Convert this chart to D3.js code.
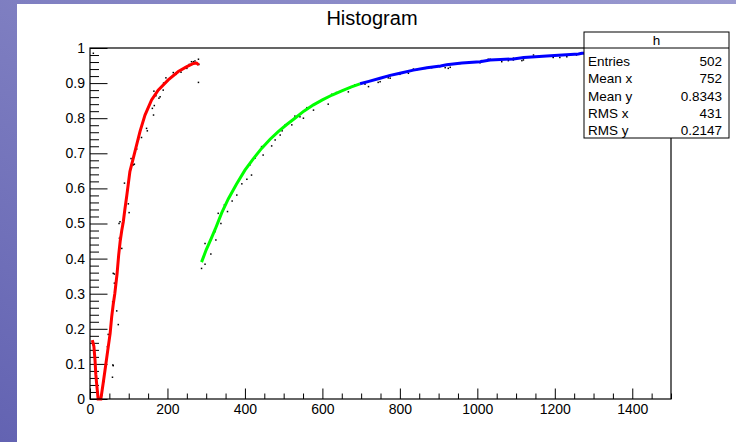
<!DOCTYPE html>
<html>
<head>
<meta charset="utf-8">
<script src="https://cdn.jsdelivr.net/npm/d3@7"></script>
<style>
  body { margin: 0; }
  svg { display: block; font-family: "Liberation Sans", Arial, sans-serif; }
</style>
</head>
<body>
<svg width="736" height="442"></svg>
<script>
// fitted pieces (x, y)
const redCurve = [[6,0.168],[10,0.15],[13,0.11],[15,0.07],[17,0.045],[21,0],[28,0],[34,0.045],[40,0.092],[46,0.14],[52,0.187],[56,0.234],[60,0.27],[64,0.3],[70,0.358],[74,0.41],[78,0.45],[82,0.48],[86,0.505],[90,0.54],[95,0.58],[103,0.648],[116,0.705],[129,0.762],[142,0.809],[159,0.852],[176,0.88],[202,0.909],[228,0.933],[250,0.947],[267,0.956],[275,0.957],[281,0.952]]
const greenCurve = [[288,0.39],[300,0.425],[312,0.455],[323,0.483],[340,0.53],[357,0.57],[378,0.612],[400,0.652],[420,0.682],[443,0.714],[465,0.74],[486,0.762],[508,0.782],[529,0.8],[552,0.82],[577,0.838],[600,0.852],[625,0.866],[650,0.878],[675,0.889],[697,0.898]]
const blueCurve = [[697,0.898],[720,0.905],[749,0.914],[775,0.922],[800,0.928],[835,0.937],[870,0.944],[905,0.949],[921,0.952],[960,0.957],[1007,0.961],[1033,0.966],[1060,0.967],[1093,0.969],[1120,0.973],[1150,0.975],[1179,0.977],[1220,0.98],[1261,0.983],[1270,0.985],[1320,0.986],[1380,0.988],[1440,0.989],[1500,0.99]]

// the black data points
const dots = [[8.6,0.985],[45,0.149],[47,0.184],[58,0.062],[59,0.097],[60,0.095],[60,0.358],[63,0.33],[63,0.356],[58.5,0.277],[69,0.251],[73,0.212],[76,0.458],[79,0.462],[82,0.429],[75,0.5],[77.5,0.505],[89,0.615],[95,0.574],[99,0.556],[101,0.531],[106,0.685],[112,0.667],[114.5,0.669],[120.5,0.712],[133,0.745],[146,0.771],[148,0.764],[161,0.828],[164,0.809],[166,0.836],[165,0.877],[170,0.864],[178,0.857],[181,0.861],[189,0.88],[196,0.915],[215,0.93],[222,0.925],[235,0.931],[245,0.944],[250,0.942],[262,0.961],[267,0.961],[271,0.963],[280,0.968],[281,0.953],[280,0.902],
  [20,0.02],[30,0.01],[36,0.05],[52,0.19],[66,0.32],[84,0.5],[125,0.74],[190,0.9],[230,0.935],[256,0.953],
  [288,0.372],[297,0.384],[312,0.413],[297,0.443],[325,0.453],[323,0.477],[338,0.5],[331,0.529],[355,0.534],[347,0.553],[367,0.564],[379,0.581],[392,0.613],[405,0.626],[417,0.638],[413,0.667],[426,0.686],[447,0.695],[443,0.719],[469,0.721],[454,0.726],[478,0.738],[491,0.752],[496,0.764],[504,0.781],[521,0.781],[529,0.806],[542,0.804],[551,0.8],[560,0.83],[577,0.823],[615,0.84],[624,0.868],[636,0.873],[654,0.88],[667,0.875],[671,0.887],[684,0.895],
  [710,0.897],[719,0.89],[744,0.902],[749,0.904],[749,0.914],[770,0.915],[775,0.914],[775,0.921],[800,0.925],[822,0.928],[835,0.94],[843,0.937],[865,0.942],[882,0.944],[903,0.947],[908,0.949],[917,0.944],[925,0.942],[925,0.953],[930,0.945],[955,0.956],[1007,0.958],[1011,0.964],[1028,0.968],[1033,0.968],[1063,0.961],[1080,0.964],[1093,0.966],[1093,0.971],[1115,0.964],[1119,0.966],[1119,0.973],[1145,0.98],[1196,0.973],[1196,0.975],[1213,0.973],[1231,0.975],[1256,0.98],[1270,0.985]]

const xTicks = [0, 200, 400, 600, 800, 1000, 1200, 1400]
const yTicks = [0, 0.1, 0.2, 0.3, 0.4, 0.5, 0.6, 0.7, 0.8, 0.9, 1]

const statLabels = ["Entries", "Mean x", "Mean y", "RMS x", "RMS y"]
const statValues = ["502", "752", "0.8343", "431", "0.2147"]

const svg = d3.select("svg")

// slide background behind the canvas
const defs = svg.append("defs")
const grad = defs.append("linearGradient").attr("id", "bg")
  .attr("x1", "0%").attr("y1", "100%").attr("x2", "100%").attr("y2", "0%")
grad.append("stop").attr("offset", "0%").attr("stop-color", "#6363b2")
grad.append("stop").attr("offset", "100%").attr("stop-color", "#9a9ad0")
svg.append("rect").attr("width", 736).attr("height", 442).attr("fill", "url(#bg)")
svg.append("rect").attr("x", 17).attr("y", 4).attr("width", 719).attr("height", 438).attr("fill", "#fff")

const frameL = 90, frameR = 671, frameT = 48, frameB = 399

const x = d3.scaleLinear().domain([0, 1500]).range([frameL, frameR])
const y = d3.scaleLinear().domain([0, 1]).range([frameB, frameT])

svg.append("text")
  .attr("x", 372).attr("y", 25)
  .attr("text-anchor", "middle")
  .style("font-size", "20px")
  .text("Histogram")

// axes, ticks pointing inwards like ROOT
const xMinor = d3.range(0, 1501, 50).filter(v => v % 200 != 0)
const yMinor = d3.range(0, 51).map(i => i / 50).filter((v, i) => i % 5 != 0)

svg.append("g").attr("transform", `translate(0,${frameB})`)
  .call(d3.axisBottom(x).tickValues(xMinor).tickSize(-5.5).tickFormat(""))
svg.append("g").attr("transform", `translate(0,${frameB})`)
  .call(d3.axisBottom(x).tickValues(xTicks).tickSize(-10.5).tickPadding(5).tickFormat(d3.format("d")))
svg.append("g").attr("transform", `translate(${frameL},0)`)
  .call(d3.axisLeft(y).tickValues(yMinor).tickSize(-9).tickFormat(""))
svg.append("g").attr("transform", `translate(${frameL},0)`)
  .call(d3.axisLeft(y).tickValues(yTicks).tickSize(-17.5).tickPadding(5).tickFormat(d => d3.format("")(+d.toFixed(1))))

svg.selectAll(".domain").remove()
svg.selectAll(".tick line").attr("stroke", "#000")
svg.selectAll(".tick text").style("font-size", "14px").attr("fill", "#000").style("font-family", "'Liberation Sans', Arial, sans-serif")

const plot = svg.append("g")

// black points
plot.selectAll("rect.dot")
  .data(dots)
  .enter()
  .append("rect")
  .attr("class", "dot")
  .attr("x", d => x(d[0]) - 0.75)
  .attr("y", d => y(d[1]) - 0.75)
  .attr("width", 1.5)
  .attr("height", 1.5)
  .attr("fill", "#000")

const line = d3.line()
  .x(d => x(d[0]))
  .y(d => y(d[1]))

const pieces = [[redCurve, "#ff0000"], [greenCurve, "#00ff00"], [blueCurve, "#0000ff"]]
pieces.forEach(p => {
  plot.append("path")
    .attr("d", line(p[0]))
    .attr("fill", "none")
    .attr("stroke", p[1])
    .attr("stroke-width", 3)
})

// frame
svg.append("rect")
  .attr("x", frameL).attr("y", frameT)
  .attr("width", frameR - frameL).attr("height", frameB - frameT)
  .attr("fill", "none").attr("stroke", "#000").attr("stroke-width", 1.2)

// stats box
const box = svg.append("g").attr("transform", "translate(584,32)")
box.append("rect").attr("width", 145).attr("height", 106)
  .attr("fill", "#fff").attr("stroke", "#000").attr("stroke-width", 1)
box.append("line").attr("x1", 0).attr("x2", 145).attr("y1", 16).attr("y2", 16).attr("stroke", "#000")
box.append("text").attr("x", 72.5).attr("y", 13).attr("text-anchor", "middle")
  .style("font-size", "13.5px").text("h")

statLabels.forEach((lab, i) => {
  box.append("text").attr("x", 4).attr("y", 34 + i * 17.3)
    .style("font-size", "13.5px").text(lab)
  box.append("text").attr("x", 138).attr("y", 34 + i * 17.3)
    .attr("text-anchor", "end").style("font-size", "13.5px").text(statValues[i])
})
</script>
</body>
</html>
